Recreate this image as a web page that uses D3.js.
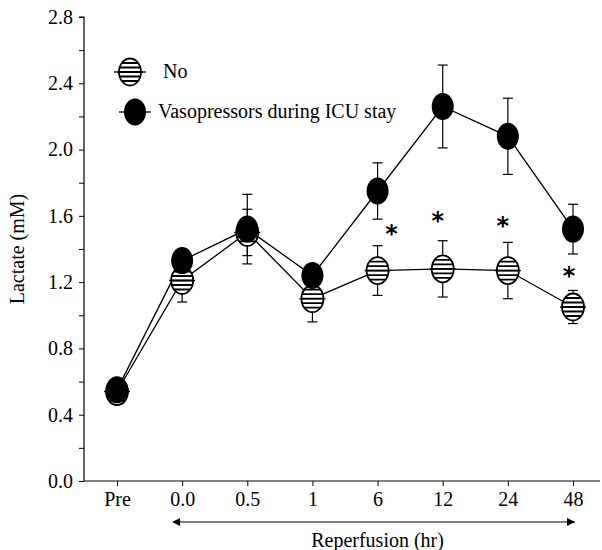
<!DOCTYPE html>
<html><head><meta charset="utf-8">
<script src="https://cdn.jsdelivr.net/npm/d3@7"></script>
<style>body{margin:0;background:#fff}svg{display:block}text{font-family:"Liberation Serif","Times New Roman",serif;fill:#000}</style>
</head><body>
<script>
const categories = ["Pre","0.0","0.5","1","6","12","24","48"];
const noMean   = [0.54,1.21,1.50,1.10,1.27,1.28,1.27,1.05];
const noErr    = [0.05,0.13,0.14,0.14,0.15,0.17,0.17,0.10];
const vasoMean = [0.55,1.33,1.52,1.24,1.75,2.26,2.08,1.52];
const vasoErr  = [0.05,0.07,0.21,0.06,0.17,0.25,0.23,0.15];
const sigCats  = ["6","12","24","48"];
const yTicks   = [0.0,0.4,0.8,1.2,1.6,2.0,2.4,2.8];
const seriesNames = ["No","Vasopressors during ICU stay"];

const W=602,H=550,FS=20;
const svg=d3.select("body").append("svg").attr("width",W).attr("height",H);
const x=d3.scalePoint().domain(categories).range([117,573]);
const y=d3.scaleLinear().domain([0,2.8]).range([481,17]);
const X0=84;

// y axis
const yAx=svg.append("g").attr("transform",`translate(${X0},0)`)
  .call(d3.axisLeft(y).tickValues(d3.range(0,2.81,0.2)).tickSize(5).tickFormat(d=>{
    const m=yTicks.find(t=>Math.abs(t-d)<1e-6); return m===undefined?"":m.toFixed(1);}));
yAx.select(".domain").attr("stroke","#000").attr("stroke-width",1.2).attr("d",`M-5,${y(2.8)}H0V${y(0)}`);
yAx.selectAll("text").attr("font-size",FS).attr("x",-11);
yAx.selectAll("line").attr("stroke","#000");

// x axis
const xAx=svg.append("g").attr("transform",`translate(0,${y(0)})`)
  .call(d3.axisBottom(x).tickSize(5).tickPadding(6));
xAx.select(".domain").attr("d",`M${X0},0H600`).attr("stroke","#000").attr("stroke-width",1.2);
xAx.selectAll("text").attr("font-size",FS);
xAx.selectAll("line").attr("stroke","#000");

// y label
svg.append("text").attr("transform",`translate(24,${(y(0)+y(2.8))/2}) rotate(-90)`)
  .attr("text-anchor","middle").attr("font-size",FS).text("Lactate (mM)");

// arrow
const defs=svg.append("defs");
["s","e"].forEach(k=>{
  defs.append("marker").attr("id","arr"+k).attr("viewBox","0 0 10 10").attr("refX",k==="e"?10:0).attr("refY",5)
   .attr("markerWidth",12).attr("markerHeight",8).attr("markerUnits","userSpaceOnUse").attr("orient","auto-start-reverse")
   .append("path").attr("d","M0,0L10,5L0,10z").attr("fill","#000");
});
svg.append("line").attr("x1",x("0.0")-2).attr("x2",x("48")+2).attr("y1",522).attr("y2",522)
  .attr("stroke","#000").attr("stroke-width",1.2).attr("marker-start","url(#arrs)").attr("marker-end","url(#arre)");
svg.append("text").attr("x",(x("0.0")+x("48"))/2).attr("y",547).attr("text-anchor","middle").attr("font-size",FS).text("Reperfusion (hr)");

const RX=11,RY=13.5;
defs.append("clipPath").attr("id","ec").append("ellipse").attr("rx",RX).attr("ry",RY);

function lineOf(vals){return d3.line().x((d,i)=>x(categories[i])).y(d=>y(d))(vals);}
svg.append("path").attr("d",lineOf(noMean)).attr("fill","none").attr("stroke","#000").attr("stroke-width",1.3);
svg.append("path").attr("d",lineOf(vasoMean)).attr("fill","none").attr("stroke","#000").attr("stroke-width",1.3);

function errBars(m,e){
  const g=svg.append("g").attr("stroke","#000").attr("stroke-width",1.2);
  categories.forEach((c,i)=>{
    const cx=x(c);
    g.append("line").attr("x1",cx).attr("x2",cx).attr("y1",y(m[i]+e[i])).attr("y2",y(m[i]-e[i]));
    [m[i]+e[i],m[i]-e[i]].forEach(v=>g.append("line").attr("x1",cx-5).attr("x2",cx+5).attr("y1",y(v)).attr("y2",y(v)));
  });
}
errBars(noMean,noErr);
errBars(vasoMean,vasoErr);

function striped(g){
  g.append("ellipse").attr("rx",RX).attr("ry",RY).attr("fill","#fff").attr("stroke","#000").attr("stroke-width",1.8);
  const s=g.append("g").attr("clip-path","url(#ec)");
  [-9,-4.5,0,4.5,9].forEach(d=>s.append("line").attr("x1",-RX).attr("x2",RX).attr("y1",d).attr("y2",d).attr("stroke","#000").attr("stroke-width",1.8));
  g.append("line").attr("x1",-RX-2).attr("x2",RX+2).attr("y1",0).attr("y2",0).attr("stroke","#000").attr("stroke-width",1.4);
}
function filled(g){
  g.append("ellipse").attr("rx",RX).attr("ry",RY).attr("fill","#000");
}
categories.forEach((c,i)=>striped(svg.append("g").attr("transform",`translate(${x(c)},${y(noMean[i])})`)));
categories.forEach((c,i)=>filled(svg.append("g").attr("transform",`translate(${x(c)},${y(vasoMean[i])})`)));

// asterisks
const astPos={"6":[14,1.52],"12":[-5,1.60],"24":[-5,1.57],"48":[-4,1.27]};
sigCats.forEach(c=>{
  svg.append("text").attr("x",x(c)+astPos[c][0]).attr("y",y(astPos[c][1])+13).attr("text-anchor","middle")
    .attr("font-size",24).attr("font-weight","bold").style("font-family","DejaVu Sans").text("*");
});

// legend
const lg=svg.append("g");
const ly=[72,112];
ly.forEach((yy,i)=>{
  const cx=i===0?130:135;
  lg.append("line").attr("x1",cx-16).attr("x2",cx+16).attr("y1",yy).attr("y2",yy).attr("stroke","#000").attr("stroke-width",1.3);
  const g=lg.append("g").attr("transform",`translate(${cx},${yy})`);
  if(i===0) striped(g); else filled(g);
  lg.append("text").attr("x",i===0?163:158).attr("y",yy+6).attr("font-size",FS).text(seriesNames[i]);
});
</script>
</body></html>
